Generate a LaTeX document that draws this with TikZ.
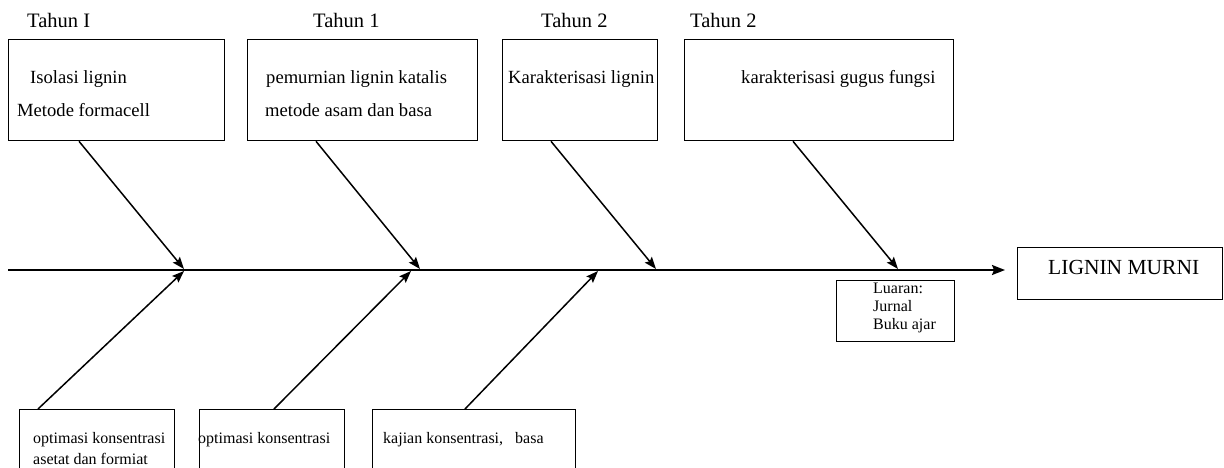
\documentclass[tikz,border=0pt]{standalone}
\usepackage{fontspec}
\setmainfont{Liberation Serif}
\usetikzlibrary{arrows.meta,calc}
\begin{document}
\begin{tikzpicture}[x=1pt,y=-1pt,
  box/.style={draw,line width=1.3pt,inner sep=0pt,anchor=north west},
  txt/.style={anchor=west,inner sep=0pt,font=\fontsize{18.6}{20}\selectfont},
  small/.style={anchor=west,inner sep=0pt,font=\fontsize{16}{18}\selectfont},
  head/.style={anchor=west,inner sep=0pt,font=\fontsize{20.5}{22}\selectfont},
  bone/.style={line width=1.5pt,-{Stealth[length=12pt,width=9pt,inset=2pt]}},
  spine/.style={line width=2pt,-{Stealth[length=13pt,width=10pt,inset=2pt]}}]
\useasboundingbox (0,0) rectangle (1224,467);
\begin{scope}
\clip (0,0) rectangle (1224,467);
% top boxes
\node[box,minimum width=216pt,minimum height=101pt] (b1) at (8,39) {};
\node[box,minimum width=230pt,minimum height=101pt] (b2) at (247,39) {};
\node[box,minimum width=155pt,minimum height=101pt] (b3) at (502,39) {};
\node[box,minimum width=269pt,minimum height=101pt] (b4) at (684,39) {};
% headers
\node[head] (h1) at (27,20) {Tahun I};
\node[head] (h2) at (313,20) {Tahun 1};
\node[head] (h3) at (541,20) {Tahun 2};
\node[head] (h4) at (690,20) {Tahun 2};
% box texts
\node[txt] (t1a) at (30,79) {Isolasi lignin};
\node[txt] (t1b) at (17,110) {Metode formacell};
\node[txt] (t2a) at (266,79) {pemurnian lignin katalis};
\node[txt] (t2b) at (265,110) {metode asam dan basa};
\node[txt] (t3a) at (508,79) {Karakterisasi lignin};
\node[txt] (t4a) at (741,79) {karakterisasi gugus fungsi};
% result boxes
\node[box,minimum width=205pt,minimum height=52pt] (res) at (1017,247) {};
\node[anchor=west,inner sep=0pt,font=\fontsize{21.5}{24}\selectfont] (rest) at (1048,267) {LIGNIN MURNI};
\node[box,minimum width=118pt,minimum height=61pt] (lua) at (836,280) {};
\node[small,align=left,anchor=north west] (luat) at (873,283) {Luaran:\\Jurnal\\Buku ajar};
% bottom boxes
\node[box,minimum width=155pt,minimum height=80pt] (c1) at (19,409) {};
\node[box,minimum width=145pt,minimum height=80pt] (c2) at (199,409) {};
\node[box,minimum width=203pt,minimum height=80pt] (c3) at (372,409) {};
\node[small] (u1a) at (33,440) {optimasi konsentrasi};
\node[small] (u1b) at (33,459) {asetat dan formiat};
\node[small] (u2a) at (198,440) {optimasi konsentrasi};
\node[small] (u3a) at (383,440) {kajian konsentrasi,\ \ \ basa};
% spine
\coordinate (s0) at (8,270);
\coordinate (s1) at (1005,270);
\draw[spine] (s0) -- (s1);
\coordinate (p1) at (184,269);
\coordinate (p2) at (420,269);
\coordinate (p3) at (656,269);
\coordinate (p4) at (898,269);
\coordinate (q1) at (184,271);
\coordinate (q2) at (411,271);
\coordinate (q3) at (598,271);
% top bones
\draw[bone] ($(b1.south west)+(71,0)$) -- (p1);
\draw[bone] ($(b2.south west)+(69,0)$) -- (p2);
\draw[bone] ($(b3.south west)+(49,0)$) -- (p3);
\draw[bone] ($(b4.south west)+(109,0)$) -- (p4);
% bottom bones
\draw[bone] ($(c1.north west)+(19,0)$) -- (q1);
\draw[bone] ($(c2.north west)+(75,0)$) -- (q2);
\draw[bone] ($(c3.north west)+(93,0)$) -- (q3);
\end{scope}
\end{tikzpicture}
\end{document}
